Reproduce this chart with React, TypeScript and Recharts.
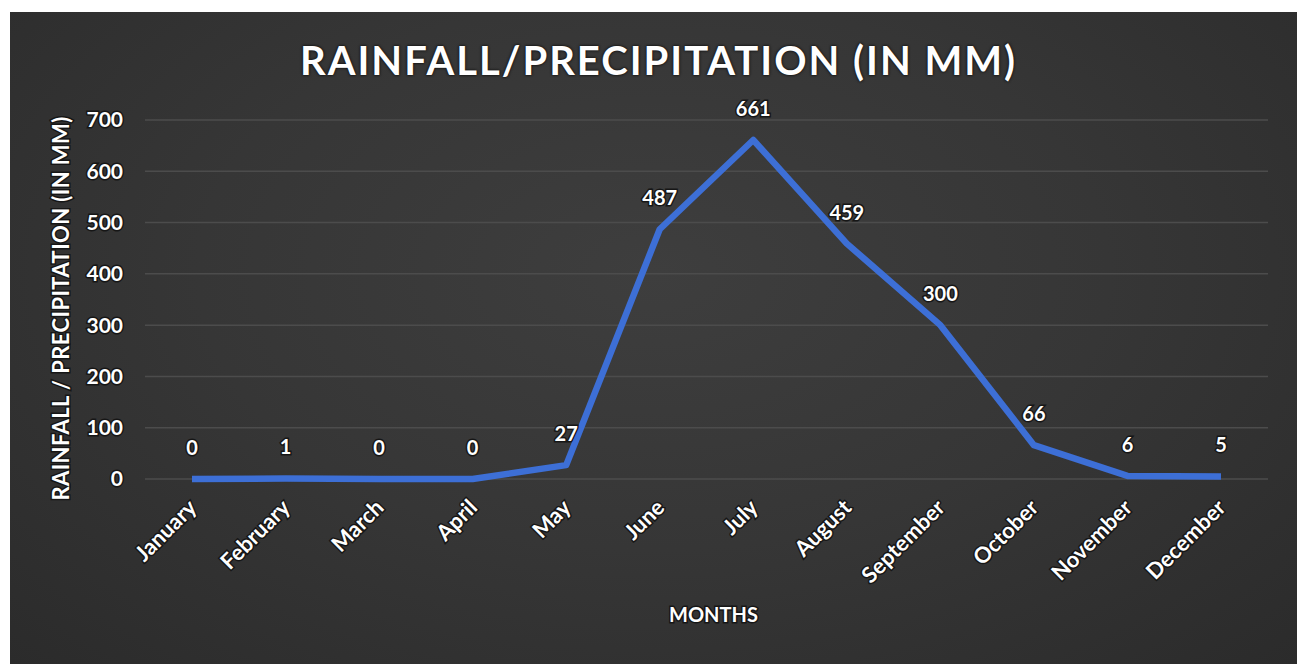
import React from 'react';
import {
  LineChart,
  Line,
  XAxis,
  YAxis,
  CartesianGrid,
  LabelList,
  Label,
} from 'recharts';

const months = [
  'January', 'February', 'March', 'April', 'May', 'June',
  'July', 'August', 'September', 'October', 'November', 'December',
];
const rainfall = [0, 1, 0, 0, 27, 487, 661, 459, 300, 66, 6, 5];
const yTicks = [0, 100, 200, 300, 400, 500, 600, 700];

const data = months.map((month, i) => ({ month, rainfall: rainfall[i] }));

const FONT = 'Lato, "Open Sans", sans-serif';
const textOutline = {
  stroke: '#161616',
  strokeWidth: 3,
  paintOrder: 'stroke' as const,
};

// rotated month labels, Excel style
const MonthTick = (props: any) => {
  const { x, y, payload } = props;
  return (
    <g transform={`translate(${x + 6},${y + 22})`}>
      <text
        transform="rotate(-45)"
        textAnchor="end"
        fill="#ffffff"
        fontFamily={FONT}
        fontWeight={700}
        fontSize={22}
        {...textOutline}
      >
        {payload.value}
      </text>
    </g>
  );
};

const YTitle = ({ viewBox }: any) => {
  const x = viewBox.x - 25;
  const y = viewBox.y + viewBox.height / 2 + 9;
  return (
    <text
      x={x}
      y={y}
      transform={`rotate(-90, ${x}, ${y})`}
      textAnchor="middle"
      dominantBaseline="central"
      fill="#ffffff"
      fontFamily={FONT}
      fontWeight={700}
      fontSize={22}
      letterSpacing={0.4}
      {...textOutline}
    >
      RAINFALL / PRECIPITATION (IN MM)
    </text>
  );
};

const XTitle = ({ viewBox }: any) => (
  <text
    x={viewBox.x + viewBox.width / 2 + 7}
    y={viewBox.y + 135}
    textAnchor="middle"
    dominantBaseline="central"
    fill="#ffffff"
    fontFamily={FONT}
    fontWeight={700}
    fontSize={20}
    {...textOutline}
  >
    MONTHS
  </text>
);

export default function App() {
  return (
    <div
      style={{
        position: 'absolute',
        left: 10,
        top: 12,
        width: 1287,
        height: 652,
        background:
          'radial-gradient(ellipse at 50% 40%, #3e3e3e 0%, #363636 50%, #2b2b2b 100%)',
        overflow: 'hidden',
      }}
    >
      <div
        style={{
          position: 'absolute',
          left: 0,
          width: 1297,
          top: 24,
          textAlign: 'center',
          color: '#ffffff',
          fontFamily: FONT,
          fontWeight: 700,
          fontSize: 40,
          letterSpacing: 2,
          textShadow: '0 0 3px #111, 0 0 2px #111',
        }}
      >
        RAINFALL/PRECIPITATION (IN MM)
      </div>
      <LineChart
        width={1287}
        height={652}
        data={data}
        margin={{ top: 108, right: 29, left: 75, bottom: 85 }}
      >
        <CartesianGrid vertical={false} stroke="#4c4c4c" strokeWidth={1.5} />
        <XAxis
          dataKey="month"
          axisLine={false}
          tickLine={false}
          interval={0}
          height={100}
          padding={{ left: 47, right: 47 }}
          tick={<MonthTick />}
        >
          <Label content={<XTitle />} />
        </XAxis>
        <YAxis
          width={60}
          domain={[0, 700]}
          ticks={yTicks}
          axisLine={false}
          tickLine={false}
          tickMargin={16}
          tick={{
            fill: '#ffffff',
            fontFamily: FONT,
            fontWeight: 700,
            fontSize: 21,
            ...textOutline,
          }}
        >
          <Label content={<YTitle />} />
        </YAxis>
        <Line
          type="linear"
          dataKey="rainfall"
          stroke="#3d6fd6"
          strokeWidth={6.5}
          dot={false}
          strokeLinejoin="round"
          isAnimationActive={false}
        >
          <LabelList
            dataKey="rainfall"
            position="top"
            offset={24}
            fill="#ffffff"
            fontFamily={FONT}
            fontWeight={700}
            fontSize={20}
            {...textOutline}
          />
        </Line>
      </LineChart>
    </div>
  );
}
